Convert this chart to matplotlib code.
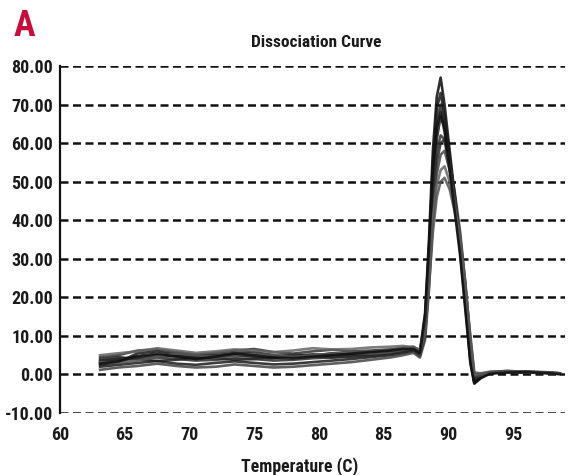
import matplotlib
matplotlib.use("Agg")
import matplotlib.pyplot as plt

plt.rcParams['font.family'] = ['Roboto Condensed', 'DejaVu Sans']
plt.rcParams['font.stretch'] = 'condensed'

# temperature grid shared by all wells
temps = [63.1, 64.5, 66, 67.5, 69, 70.5, 72, 73.5, 75, 76.5, 78, 79.5, 81, 82.5, 84,
         85.5, 86.5, 87.3, 87.8, 88.2, 88.5, 88.8, 89.1, 89.4, 89.7, 90.1, 90.5,
         90.9, 91.3, 91.7, 92.0, 92.5, 93.2, 94.5, 96, 97.5, 98.6]

# derivative fluorescence for each well
well_1 = [3.5, 4.0, 4.5, 5.0, 4.8, 4.2, 4.5, 5.0, 4.6, 4.2, 4.8, 5.2, 5.0, 5.3, 5.6,
          6.0, 6.3, 6.8, 6.0, 16, 35, 58, 72, 77, 70, 58, 46, 34, 20, 4, -2.0, -0.5, 0.5, 0.8, 0.6, 0.5, 0.2]
well_2 = [2.5, 3.2, 5.5, 6.0, 5.2, 4.8, 5.0, 5.6, 5.8, 5.0, 4.5, 4.8, 5.5, 5.2, 5.0,
          5.5, 6.0, 6.5, 5.5, 14, 32, 55, 69, 73, 67, 56, 44, 32, 18, 3, -2.2, -0.8, 0.3, 0.6, 0.7, 0.4, 0.1]
well_3 = [4.0, 4.5, 4.0, 3.5, 3.8, 4.5, 4.2, 3.8, 4.0, 4.6, 5.2, 4.8, 4.4, 4.8, 5.2,
          5.6, 6.2, 6.4, 5.2, 12, 30, 52, 66, 70, 65, 55, 44, 33, 19, 5, -1.5, -0.3, 0.5, 0.9, 0.7, 0.6, 0.3]
well_4 = [2.0, 2.5, 3.0, 3.5, 2.8, 2.5, 3.0, 3.4, 3.0, 2.6, 2.8, 3.2, 3.6, 4.0, 4.5,
          5.0, 5.5, 6.0, 4.8, 11, 27, 48, 61, 67, 64, 56, 46, 35, 22, 6, -1.8, -0.6, 0.4, 0.7, 0.6, 0.4, 0.2]
well_5 = [4.5, 5.0, 6.2, 6.5, 5.8, 5.2, 5.6, 6.2, 6.6, 5.8, 5.4, 6.0, 6.4, 6.0, 6.2,
          6.5, 7.0, 7.2, 6.2, 13, 28, 47, 58, 62, 61, 53, 44, 34, 21, 6, -1.0, -0.2, 0.6, 0.8, 0.7, 0.5, 0.2]
well_6 = [3.0, 3.6, 4.2, 4.4, 4.0, 3.6, 3.8, 4.2, 4.0, 3.6, 3.8, 4.2, 4.4, 4.6, 4.8,
          5.2, 5.8, 6.2, 5.0, 10, 24, 42, 55, 60, 61, 55, 47, 37, 24, 8, -0.8, -0.4, 0.4, 0.8, 0.6, 0.5, 0.3]
well_7 = [1.2, 1.8, 2.2, 2.8, 2.2, 1.8, 2.0, 2.6, 2.2, 1.8, 2.0, 2.4, 2.8, 3.2, 3.8,
          4.4, 5.0, 5.6, 4.4, 9, 22, 40, 52, 57, 58, 53, 45, 36, 24, 9, -0.5, -0.2, 0.4, 0.6, 0.5, 0.4, 0.2]
well_8 = [5.0, 5.5, 6.0, 6.8, 6.2, 5.6, 6.0, 6.5, 6.2, 5.8, 6.2, 6.8, 6.5, 6.6, 7.0,
          7.2, 7.4, 7.0, 6.5, 12, 25, 40, 49, 53, 54, 50, 43, 35, 23, 9, 0.0, 0.2, 0.6, 0.8, 0.7, 0.5, 0.3]
well_9 = [3.2, 3.0, 3.6, 4.6, 5.4, 5.0, 4.4, 4.8, 5.4, 5.0, 4.6, 5.0, 5.4, 5.6, 5.4,
          5.8, 6.4, 6.8, 5.8, 11, 23, 37, 46, 50, 51, 48, 42, 34, 23, 10, 0.5, 0.3, 0.7, 0.9, 0.7, 0.5, 0.3]
well_10 = [2.8, 3.4, 4.8, 5.4, 4.6, 4.0, 4.6, 5.4, 5.0, 4.4, 4.2, 4.6, 5.0, 5.4, 5.8,
           6.2, 6.6, 6.6, 5.6, 15, 33, 53, 64, 68, 63, 53, 42, 31, 17, 3, -2.4, -1.0, 0.2, 0.5, 0.6, 0.4, 0.1]

wells = [well_1, well_2, well_3, well_4, well_5, well_6, well_7, well_8, well_9, well_10]
shades = ['#0a0a0a', '#151515', '#222222', '#1a1a1a', '#333333', '#2a2a2a',
          '#444444', '#666666', '#555555', '#101010']

yticks = [-10, 0, 10, 20, 30, 40, 50, 60, 70, 80]
xticks = [60, 65, 70, 75, 80, 85, 90, 95]

fig = plt.figure(figsize=(5.68, 4.75), dpi=100)
ax = fig.add_axes([0.1056, 0.1305, 0.889, 0.7305])

for w, c in zip(wells, shades):
    ax.plot(temps, w, color=c, lw=1.9, alpha=0.85, solid_joinstyle='round')

for yv in yticks:
    ax.axhline(yv, color='#111111', lw=1.8, ls=(0, (3.2, 1.8)), zorder=0)

ax.set_xlim(60, 99)
ax.set_ylim(-10, 80)
ax.set_xticks(xticks)
ax.set_yticks(yticks)
ax.set_yticklabels(['%.2f' % v for v in yticks], fontsize=13, fontweight='bold', color='#1a1a1a')
ax.set_xticklabels([str(v) for v in xticks], fontsize=13, fontweight='bold', color='#1a1a1a')
ax.tick_params(length=0, pad=5)
ax.tick_params(axis='x', pad=9)

for s in ['top', 'right', 'bottom']:
    ax.spines[s].set_visible(False)
ax.spines['left'].set_linewidth(1.6)
ax.spines['left'].set_color('#111111')

fig.text(0.557, 0.911, 'Dissociation Curve', ha='center', va='center',
         fontsize=12.5, fontweight='bold', color='#1a1a1a')
fig.text(0.528, 0.018, 'Temperature (C)', ha='center', va='center',
         fontsize=12.8, fontweight='bold', color='#1a1a1a')
fig.text(0.024, 0.945, 'A', ha='left', va='center', fontsize=26,
         fontweight='bold', color='#c4103c')

fig.savefig('out.png', dpi=100)
